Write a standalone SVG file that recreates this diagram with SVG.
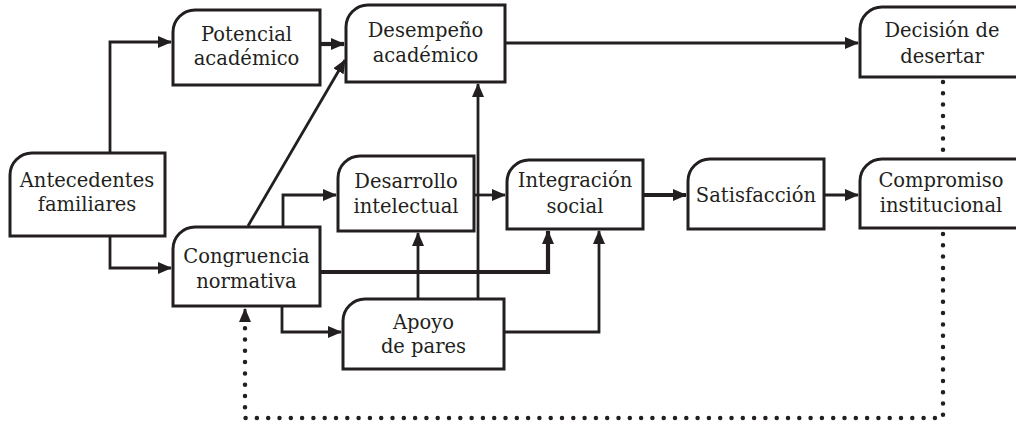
<svg xmlns="http://www.w3.org/2000/svg" width="1016" height="425" viewBox="0 0 1016 425">
<style>
.box{fill:#fff;stroke:#231f20;stroke-width:3}
.lbl{font-family:"DejaVu Serif","Liberation Serif",serif;font-size:19.5px;fill:#231f20;text-anchor:middle}
.ln{fill:none;stroke:#231f20;stroke-width:2.8}
.thk{fill:none;stroke:#231f20;stroke-width:4.2}
.dot{fill:none;stroke:#231f20;stroke-width:4.5;stroke-linecap:round;stroke-dasharray:0 11.3}
</style>
<defs>
<marker id="ah" markerUnits="userSpaceOnUse" markerWidth="14" markerHeight="12" refX="13" refY="6" orient="auto">
<path d="M0,0 L14,6 L0,12 z" fill="#231f20"/>
</marker>
</defs>
<rect width="1016" height="425" fill="#fff"/>
<g id="connectors">
<path class="ln" d="M110,153 V42 H171" marker-end="url(#ah)"/>
<path class="ln" d="M110,236 V268 H171" marker-end="url(#ah)"/>
<path class="thk" d="M320,44 H344" marker-end="url(#ah)"/>
<path class="ln" d="M248,226 L345,60" marker-end="url(#ah)"/>
<path class="ln" d="M283,227 V195 H336" marker-end="url(#ah)"/>
<path class="ln" d="M474,195 H505" marker-end="url(#ah)"/>
<path class="ln" d="M478,299 V84" marker-end="url(#ah)"/>
<path class="thk" d="M320,272 H548 V231" marker-end="url(#ah)"/>
<path class="ln" d="M418,299 V233" marker-end="url(#ah)"/>
<path class="ln" d="M504,332 H599 V231" marker-end="url(#ah)"/>
<path class="ln" d="M282,306 V332 H341" marker-end="url(#ah)"/>
<path class="thk" d="M643,195 H686" marker-end="url(#ah)"/>
<path class="ln" d="M824,195 H858" marker-end="url(#ah)"/>
<path class="ln" d="M505,43 H858" marker-end="url(#ah)"/>
<path class="dot" d="M943,82 V157"/>
<path class="dot" d="M943,234 V418 H245 V318"/>
<path class="ln" d="M245,322 V309" marker-end="url(#ah)"/>
</g>
<g id="potencial">
<path class="box" d="M173,32 A22,22 0 0 1 195,10 H320 V85 H173 Z"/>
<text class="lbl" x="246.5" y="41">Potencial</text>
<text class="lbl" x="246.5" y="65">académico</text>
</g>
<g id="desempeno">
<path class="box" d="M346,27 A22,22 0 0 1 368,5 H505 V82 H346 Z"/>
<text class="lbl" x="425.5" y="37">Desempeño</text>
<text class="lbl" x="425.5" y="62">académico</text>
</g>
<g id="decision">
<path class="box" d="M860,29 A22,22 0 0 1 882,7 H1030 V77 H860 Z"/>
<text class="lbl" x="942" y="37">Decisión de</text>
<text class="lbl" x="942" y="63">desertar</text>
</g>
<g id="antecedentes">
<path class="box" d="M10,175 A22,22 0 0 1 32,153 H165 V236 H10 Z"/>
<text class="lbl" x="87" y="187">Antecedentes</text>
<text class="lbl" x="87" y="211">familiares</text>
</g>
<g id="congruencia">
<path class="box" d="M173,249 A22,22 0 0 1 195,227 H320 V306 H173 Z"/>
<text class="lbl" x="246.5" y="263">Congruencia</text>
<text class="lbl" x="246.5" y="288">normativa</text>
</g>
<g id="desarrollo">
<path class="box" d="M338,178 A22,22 0 0 1 360,156 H474 V231 H338 Z"/>
<text class="lbl" x="406" y="188">Desarrollo</text>
<text class="lbl" x="406" y="213">intelectual</text>
</g>
<g id="integracion">
<path class="box" d="M507,182 A22,22 0 0 1 529,160 H643 V229 H507 Z"/>
<text class="lbl" x="575" y="187">Integración</text>
<text class="lbl" x="575" y="213">social</text>
</g>
<g id="satisfaccion">
<path class="box" d="M688,181 A22,22 0 0 1 710,159 H824 V229 H688 Z"/>
<text class="lbl" x="756" y="202">Satisfacción</text>
</g>
<g id="compromiso">
<path class="box" d="M860,181 A22,22 0 0 1 882,159 H1030 V228 H860 Z"/>
<text class="lbl" x="941" y="187">Compromiso</text>
<text class="lbl" x="941" y="212">institucional</text>
</g>
<g id="apoyo">
<path class="box" d="M343,321 A22,22 0 0 1 365,299 H504 V369 H343 Z"/>
<text class="lbl" x="423.5" y="329">Apoyo</text>
<text class="lbl" x="423.5" y="353">de pares</text>
</g>
</svg>
